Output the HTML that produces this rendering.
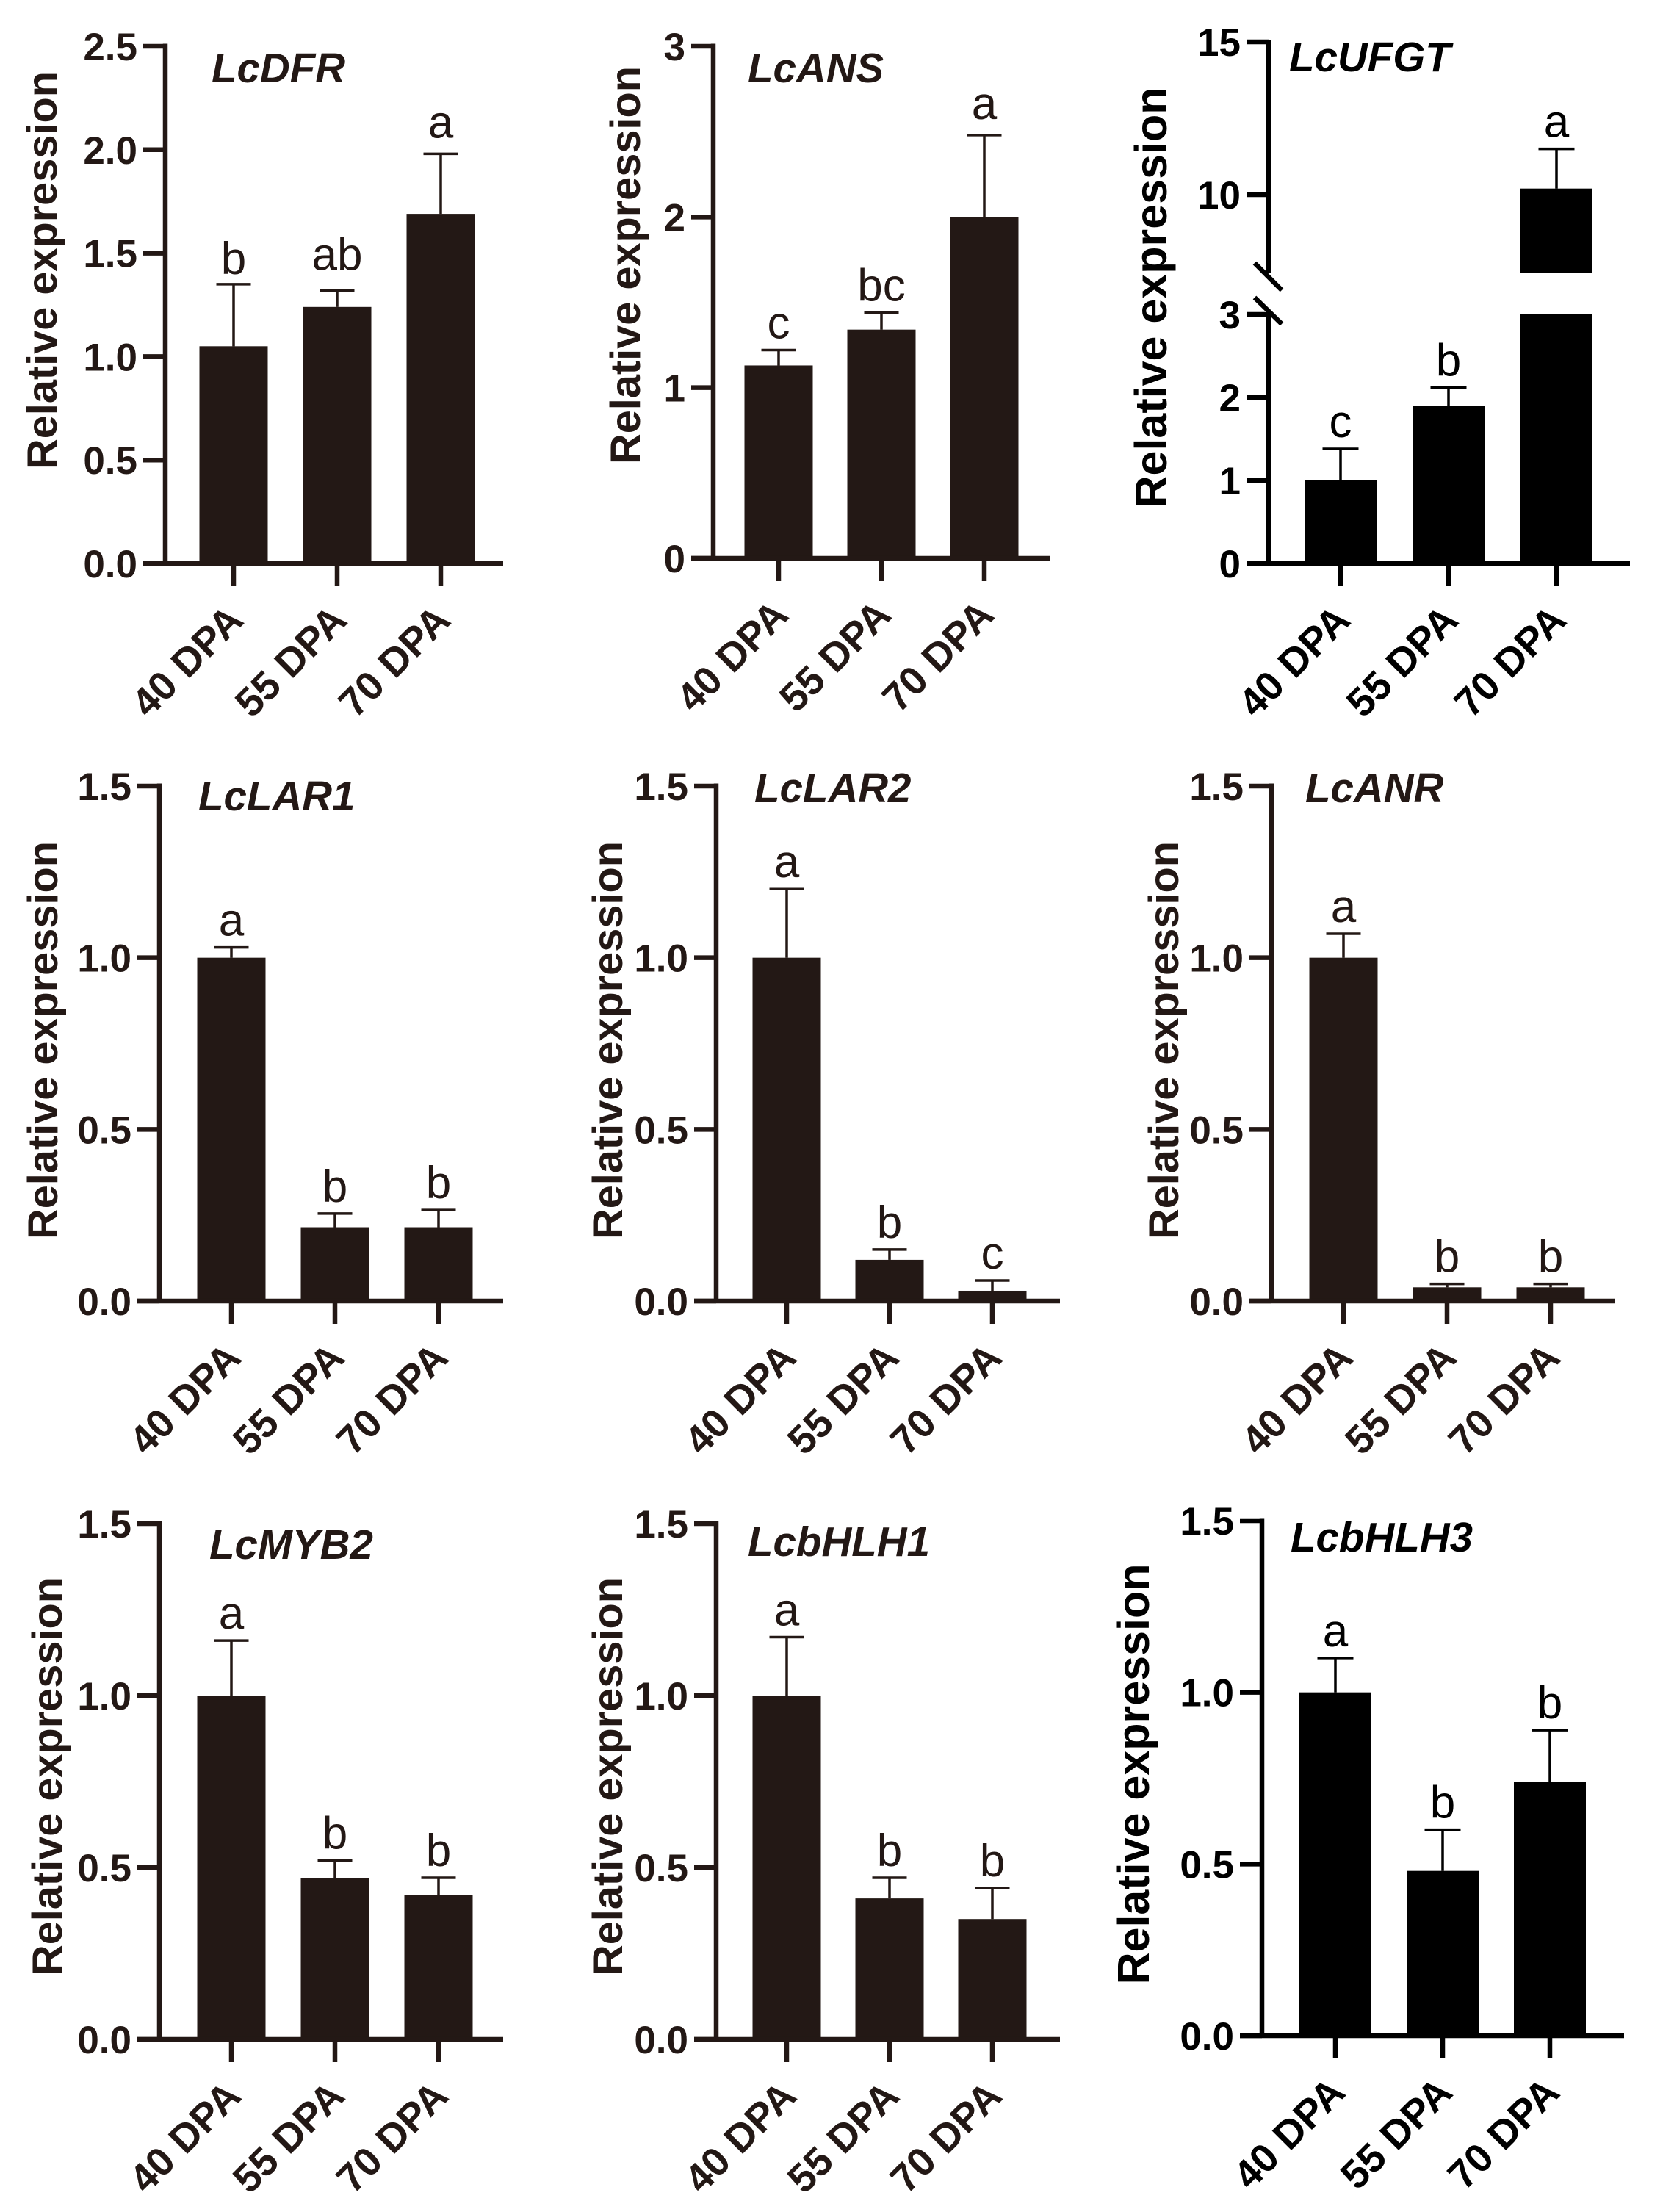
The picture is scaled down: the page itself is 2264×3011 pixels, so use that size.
<!DOCTYPE html>
<html lang="en">
<head>
<meta charset="utf-8">
<title>Relative expression of flavonoid genes at 40, 55 and 70 DPA</title>
<style>
html,body{margin:0;padding:0;background:#fff;}
svg{display:block;}
text{font-family:"Liberation Sans",Arial,sans-serif;}
</style>
</head>
<body>
<svg id="figure" xmlns="http://www.w3.org/2000/svg" width="2264" height="3011" viewBox="0 0 2264 3011"></svg>
<script>
const categories = ['40 DPA', '55 DPA', '70 DPA'];
const yTitle = 'Relative expression';

const dfrValues = [1.05, 1.24, 1.69];
const dfrErrors = [0.30, 0.08, 0.29];
const dfrLetters = ['b', 'ab', 'a'];
const dfrTicks = ['0.0', '0.5', '1.0', '1.5', '2.0', '2.5'];

const ansValues = [1.13, 1.34, 2.00];
const ansErrors = [0.09, 0.10, 0.48];
const ansLetters = ['c', 'bc', 'a'];
const ansTicks = ['0', '1', '2', '3'];

const ufgtValues = [1.00, 1.90, 10.2];
const ufgtErrors = [0.38, 0.22, 1.3];
const ufgtLetters = ['c', 'b', 'a'];
const ufgtTicks = ['0', '1', '2', '3', '10', '15'];

const lar1Values = [1.00, 0.215, 0.215];
const lar1Errors = [0.03, 0.04, 0.05];
const lar1Letters = ['a', 'b', 'b'];

const lar2Values = [1.00, 0.12, 0.03];
const lar2Errors = [0.20, 0.03, 0.03];
const lar2Letters = ['a', 'b', 'c'];

const anrValues = [1.00, 0.04, 0.04];
const anrErrors = [0.07, 0.01, 0.01];
const anrLetters = ['a', 'b', 'b'];

const myb2Values = [1.00, 0.47, 0.42];
const myb2Errors = [0.16, 0.05, 0.05];
const myb2Letters = ['a', 'b', 'b'];

const bhlh1Values = [1.00, 0.41, 0.35];
const bhlh1Errors = [0.17, 0.06, 0.09];
const bhlh1Letters = ['a', 'b', 'b'];

const bhlh3Values = [1.00, 0.48, 0.74];
const bhlh3Errors = [0.10, 0.12, 0.15];
const bhlh3Letters = ['a', 'b', 'b'];

const smallTicks = ['0.0', '0.5', '1.0', '1.5'];

const NS = 'http://www.w3.org/2000/svg';
const svg = document.getElementById('figure');

function makeLine(parent, x1, y1, x2, y2, color, width) {
  const el = document.createElementNS(NS, 'line');
  el.setAttribute('x1', x1);
  el.setAttribute('y1', y1);
  el.setAttribute('x2', x2);
  el.setAttribute('y2', y2);
  el.setAttribute('stroke', color);
  el.setAttribute('stroke-width', width);
  parent.appendChild(el);
  return el;
}

function makeText(parent, str, x, y, size, weight, style, anchor, color, transform) {
  const el = document.createElementNS(NS, 'text');
  el.setAttribute('x', x);
  el.setAttribute('y', y);
  el.setAttribute('font-size', size);
  el.setAttribute('font-weight', weight);
  el.setAttribute('font-style', style);
  el.setAttribute('text-anchor', anchor);
  el.setAttribute('fill', color);
  if (transform) el.setAttribute('transform', transform);
  el.textContent = str;
  parent.appendChild(el);
  return el;
}

/* scale: value -> pixel; a piecewise variant handles the broken axis of LcUFGT */
function linearScale(y0, yTop, max) {
  return function (v) { return y0 - (v / max) * (y0 - yTop); };
}
function brokenScale(y0, yLowTop, lowMax, yHighRef, highRef, pxPerUnit) {
  return function (v) {
    if (v <= lowMax) return y0 - (v / lowMax) * (y0 - yLowTop);
    return yHighRef - (v - highRef) * pxPerUnit;
  };
}

function drawPanel(p) {
  const g = document.createElementNS(NS, 'g');
  
  
  svg.appendChild(g);

  const y = p.scale;
  const color = p.color;

  /* bars */
  p.values.forEach(function (v, i) {
    const cx = p.x0 + i * p.step;
    const top = y(v);
    const bar = document.createElementNS(NS, 'rect');
    bar.setAttribute('x', cx - p.barW / 2);
    bar.setAttribute('width', p.barW);
    bar.setAttribute('y', top);
    bar.setAttribute('height', p.y0 - top);
    bar.setAttribute('fill', color);
    
    
    g.appendChild(bar);

    const capY = y(v + p.errors[i]);
    const stem = makeLine(g, cx, top, cx, capY, color, 3.5);
    
    
    const cap = makeLine(g, cx - p.capW / 2, capY, cx + p.capW / 2, capY, color, 3.5);
    
    

    const nudge = p.letterNudge ? p.letterNudge[i] : 0;
    const letter = makeText(g, p.letters[i], cx, capY - 16 + nudge, 62, 400, 'normal', 'middle', color);
    
    

    const tick = makeLine(g, cx, p.y0, cx, p.y0 + 31, color, 6.5);
    
    

    const lx = cx + 16;
    const ly = p.y0 + 80;
    const label = makeText(g, categories[i], lx, ly, 54.5, 700, 'normal', 'end', color, 'rotate(-45 ' + lx + ' ' + ly + ')');
    
    
  });

  /* broken-axis white gap through the tall bar */
  if (p.gap) {
    const gap = document.createElementNS(NS, 'rect');
    const i = p.values.length - 1;
    const gx = p.x0 + i * p.step - p.barW / 2 - 2;
    gap.setAttribute('x', gx);
    gap.setAttribute('y', p.gap[0]);
    gap.setAttribute('width', p.barW + 4);
    gap.setAttribute('height', p.gap[1] - p.gap[0]);
    gap.setAttribute('fill', '#fff');
    
    
    g.appendChild(gap);
  }

  /* axes */
  if (p.gap) {
    const upper = makeLine(g, p.axisX, y(15) - 3, p.axisX, p.gap[0], color, 6.5);
    
    
    const lower = makeLine(g, p.axisX, p.gap[1], p.axisX, p.y0, color, 6.5);
    
    
    const slashA = makeLine(g, p.axisX - 19, p.gap[0] - 14, p.axisX + 18, p.gap[0] + 23, color, 6.5);
    
    
    const slashB = makeLine(g, p.axisX - 19, p.gap[1] - 23, p.axisX + 18, p.gap[1] + 13, color, 6.5);
    
    
  } else {
    const yAxis = makeLine(g, p.axisX, y(p.maxTick) - 3.5, p.axisX, p.y0, color, 6.5);
    
    
  }
  const xAxis = makeLine(g, p.axisX - 30, p.y0, p.xEnd, p.y0, color, 6.5);
  
  

  /* y ticks */
  p.ticks.forEach(function (t) {
    const ty = y(parseFloat(t));
    const yt = makeLine(g, p.axisX - 30, ty, p.axisX, ty, color, 6.5);
    
    
    const tx = p.axisX - 38;
    const tl = makeText(g, t, tx, ty + 19, 53, 700, 'normal', 'end', color);
    
    
  });

  /* y title */
  const title = makeText(g, yTitle, p.titleX, p.titleY, p.titleSize, 700, 'normal', 'middle', color, 'rotate(-90 ' + p.titleX + ' ' + p.titleY + ')');
  
  

  /* gene name */
  const gene = makeText(g, p.gene, p.geneX, p.geneY, 56.5, 700, 'italic', 'start', color);
  
  
}

const brown = '#231815';
const black = '#000000';

drawPanel({ gene: 'LcDFR', values: dfrValues, errors: dfrErrors, letters: dfrLetters, ticks: dfrTicks, maxTick: 2.5,
  letterNudge: [2, -12, -6],
  scale: linearScale(767, 63, 2.5), y0: 767, axisX: 225, xEnd: 685, x0: 318, step: 141, barW: 93, capW: 47,
  color: brown, titleX: 77, titleY: 368, titleSize: 57.7, geneX: 288, geneY: 112 });

drawPanel({ gene: 'LcANS', values: ansValues, errors: ansErrors, letters: ansLetters, ticks: ansTicks, maxTick: 3,
  letterNudge: [0, 0, -6],
  scale: linearScale(760, 63, 3), y0: 760, axisX: 971, xEnd: 1430, x0: 1060, step: 140, barW: 93, capW: 47,
  color: brown, titleX: 871, titleY: 361, titleSize: 57.7, geneX: 1018, geneY: 112 });

drawPanel({ gene: 'LcUFGT', values: ufgtValues, errors: ufgtErrors, letters: ufgtLetters, ticks: ufgtTicks, maxTick: 15,
  scale: brokenScale(767, 428, 3, 265, 10, 41.6), y0: 767, axisX: 1727, xEnd: 2219, x0: 1825, step: 147, barW: 98, capW: 49,
  gap: [372, 428], color: black, titleX: 1588, titleY: 405, titleSize: 61, geneX: 1755, geneY: 97 });

drawPanel({ gene: 'LcLAR1', values: lar1Values, errors: lar1Errors, letters: lar1Letters, ticks: smallTicks, maxTick: 1.5,
  scale: linearScale(1771, 1070, 1.5), y0: 1771, axisX: 217, xEnd: 685, x0: 315, step: 141, barW: 93, capW: 47,
  color: brown, titleX: 78, titleY: 1416, titleSize: 57.7, geneX: 270, geneY: 1103 });

drawPanel({ gene: 'LcLAR2', values: lar2Values, errors: lar2Errors, letters: lar2Letters, ticks: smallTicks, maxTick: 1.5,
  scale: linearScale(1771, 1070, 1.5), y0: 1771, axisX: 975, xEnd: 1443, x0: 1071, step: 140, barW: 93, capW: 47,
  color: brown, titleX: 847, titleY: 1416, titleSize: 57.7, geneX: 1027, geneY: 1092 });

drawPanel({ gene: 'LcANR', values: anrValues, errors: anrErrors, letters: anrLetters, ticks: smallTicks, maxTick: 1.5,
  scale: linearScale(1771, 1070, 1.5), y0: 1771, axisX: 1731, xEnd: 2199, x0: 1829, step: 141, barW: 93, capW: 47,
  color: brown, titleX: 1604, titleY: 1416, titleSize: 57.7, geneX: 1777, geneY: 1092 });

drawPanel({ gene: 'LcMYB2', values: myb2Values, errors: myb2Errors, letters: myb2Letters, ticks: smallTicks, maxTick: 1.5,
  scale: linearScale(2776, 2074, 1.5), y0: 2776, axisX: 217, xEnd: 685, x0: 315, step: 141, barW: 93, capW: 47,
  color: brown, titleX: 84, titleY: 2418, titleSize: 57.7, geneX: 285, geneY: 2122 });

drawPanel({ gene: 'LcbHLH1', values: bhlh1Values, errors: bhlh1Errors, letters: bhlh1Letters, ticks: smallTicks, maxTick: 1.5,
  scale: linearScale(2776, 2074, 1.5), y0: 2776, axisX: 975, xEnd: 1443, x0: 1071, step: 140, barW: 93, capW: 47,
  color: brown, titleX: 847, titleY: 2418, titleSize: 57.7, geneX: 1018, geneY: 2118 });

drawPanel({ gene: 'LcbHLH3', values: bhlh3Values, errors: bhlh3Errors, letters: bhlh3Letters, ticks: smallTicks, maxTick: 1.5,
  scale: linearScale(2771, 2070, 1.5), y0: 2771, axisX: 1718, xEnd: 2211, x0: 1818, step: 146, barW: 98, capW: 49,
  color: black, titleX: 1564, titleY: 2415, titleSize: 61, geneX: 1757, geneY: 2112 });
</script>
</body>
</html>
